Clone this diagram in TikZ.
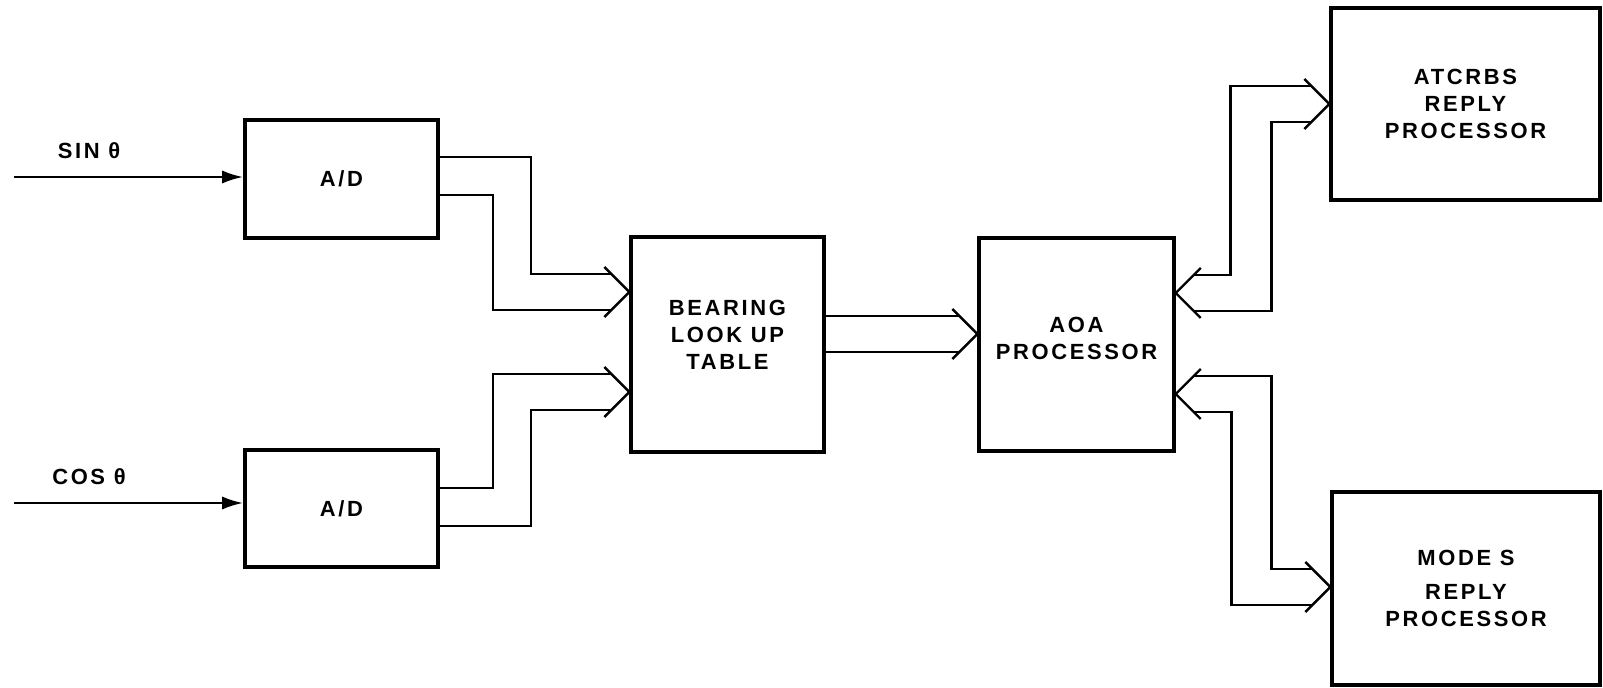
\documentclass[tikz,border=0pt]{standalone}
\usepackage{fontspec}
\newfontfamily\boxfont[LetterSpace=12]{Liberation Sans}
\usepackage{tikz}
\usetikzlibrary{arrows.meta, positioning, calc}

% chevron head of a two-line bus, #1 = tip, #2 = +1 points right, -1 points left
\newcommand{\buschevron}[2]{%
  \draw[bus] ($(#1)+(-25*#2,-25)$) -- (#1) -- ($(#1)+(-25*#2,25)$);}

\begin{document}
\begin{tikzpicture}[
        x=0.02cm, y=-0.02cm,
        box/.style={draw, line width=2pt, align=center, inner sep=0pt,
            font=\boxfont\bfseries\fontsize{12.5}{15.5}\selectfont},
        lbl/.style={font=\boxfont\bfseries\fontsize{12.5}{15.5}\selectfont},
        bus/.style={line width=1.4pt, line join=miter},
        arrow/.style={-{Latex[length=12pt, width=7.5pt]}, line width=1.6pt}
    ]
        \useasboundingbox (0,0) rectangle (1603,688);

        % Converters
        \node[box, minimum width=3.86cm, minimum height=2.36cm] (adsin) at (341.5,179) {A/D};
        \node[box, minimum width=3.86cm, minimum height=2.34cm] (adcos) at (341.5,508.5) {A/D};

        % Table and processors
        \node[box, minimum width=3.86cm, minimum height=4.3cm, text depth=11pt] (bear) at (727.5,344.5) {BEARING\\LOOK UP\\TABLE};
        \node[box, minimum width=3.9cm, minimum height=4.26cm, text depth=7pt] (aoa) at (1076.5,344.5) {AOA\\PROCESSOR};
        \node[box, minimum width=5.38cm, minimum height=3.84cm] (atc) at (1465.5,104) {ATCRBS\\REPLY\\PROCESSOR};
        \node[box, minimum width=5.36cm, minimum height=3.86cm] (modes) at (1466,588.5) {MODE S\\[4pt]REPLY\\PROCESSOR};

        % Inputs
        \node[lbl] (sinlbl) at (89,151) {SIN θ};
        \node[lbl] (coslbl) at (89,477) {COS θ};
        \coordinate (sinin) at (14,177);
        \coordinate (cosin) at (14,503);
        \draw[arrow] (sinin) -- (sinin -| adsin.west);
        \draw[arrow] (cosin) -- (cosin -| adcos.west);

        % Chevron tips on the box sides
        \coordinate (t1) at (bear.west |- 0,292);
        \coordinate (t2) at (bear.west |- 0,392);
        \coordinate (t3) at (aoa.west |- 0,334);
        \coordinate (t4) at (aoa.east |- 0,293);
        \coordinate (t5) at (atc.west |- 0,104);
        \coordinate (t6) at (aoa.east |- 0,394);
        \coordinate (t7) at (modes.west |- 0,587);

        % A/D to table
        \draw[bus] ($(adsin.east)+(0,-22)$) -| ($(t1)+(-98,-18)$) -- ($(t1)+(-18,-18)$);
        \draw[bus] ($(adsin.east)+(0,16)$) -| ($(t1)+(-136,18)$) -- ($(t1)+(-18,18)$);
        \buschevron{t1}{1}
        \draw[bus] ($(adcos.east)+(0,-20.5)$) -| ($(t2)+(-136,-18)$) -- ($(t2)+(-18,-18)$);
        \draw[bus] ($(adcos.east)+(0,17.5)$) -| ($(t2)+(-98,18)$) -- ($(t2)+(-18,18)$);
        \buschevron{t2}{1}

        % Table to AOA
        \draw[bus] (bear.east |- 0,316) -- ($(t3)+(-18,-18)$);
        \draw[bus] (bear.east |- 0,352) -- ($(t3)+(-18,18)$);
        \buschevron{t3}{1}

        % AOA to reply processors, both ways
        \draw[bus] ($(t4)+(18,-18)$) -| ($(t5)+(-99,-18)$) -- ($(t5)+(-18,-18)$);
        \draw[bus] ($(t4)+(18,18)$) -| ($(t5)+(-58,18)$) -- ($(t5)+(-18,18)$);
        \buschevron{t4}{-1}
        \buschevron{t5}{1}
        \draw[bus] ($(t6)+(18,-18)$) -| ($(t7)+(-59,-18)$) -- ($(t7)+(-18,-18)$);
        \draw[bus] ($(t6)+(18,18)$) -| ($(t7)+(-99,18)$) -- ($(t7)+(-18,18)$);
        \buschevron{t6}{-1}
        \buschevron{t7}{1}
    \end{tikzpicture}
\end{document}
